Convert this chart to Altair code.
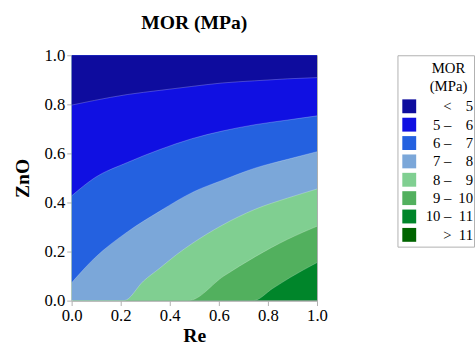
import altair as alt
import pandas as pd

FONT = "Liberation Serif, Times New Roman, Times, serif"

categories = ["< 5", "5 – 6", "6 – 7", "7 – 8", "8 – 9", "9 – 10", "10 – 11", "> 11"]
colors = ["#0e0c9e", "#1010e2", "#2461e0", "#7ba7d9", "#80cf91", "#52b05e", "#00852a", "#006400"]
legend_left = ["<", "5 –", "6 –", "7 –", "8 –", "9 –", "10 –", ">"]
legend_right = ["5", "6", "7", "8", "9", "10", "11", "11"]
legend_title = ["MOR", "(MPa)"]

# contour boundaries (Re, ZnO)
c5_x = [0, 0.093, 0.227, 0.36, 0.49, 0.613, 0.747, 0.88, 1.0]
c5_y = [0.797, 0.816, 0.84, 0.857, 0.873, 0.887, 0.896, 0.904, 0.909]
c6_x = [0, 0.093, 0.227, 0.36, 0.49, 0.613, 0.747, 0.88, 1.0]
c6_y = [0.427, 0.50, 0.563, 0.616, 0.66, 0.691, 0.717, 0.736, 0.753]
c7_x = [0, 0.093, 0.227, 0.36, 0.5, 0.613, 0.747, 0.88, 1.0]
c7_y = [0.073, 0.173, 0.28, 0.365, 0.445, 0.49, 0.54, 0.576, 0.607]
c8_x = [0, 0.213, 0.293, 0.36, 0.427, 0.49, 0.613, 0.747, 0.88, 1.0]
c8_y = [0, 0, 0.08, 0.133, 0.187, 0.232, 0.307, 0.372, 0.418, 0.455]
c9_x = [0, 0.475, 0.62, 0.75, 0.88, 1.0]
c9_y = [0, 0, 0.10, 0.18, 0.25, 0.303]
c10_x = [0, 0.74, 0.82, 0.89, 1.0]
c10_y = [0, 0, 0.05, 0.094, 0.155]

# (boundary, category of region above it), painted bottom-up
curves = [
    (c10_x, c10_y, "9 – 10"),
    (c9_x, c9_y, "8 – 9"),
    (c8_x, c8_y, "7 – 8"),
    (c7_x, c7_y, "6 – 7"),
    (c6_x, c6_y, "5 – 6"),
    (c5_x, c5_y, "< 5"),
]

color_scale = alt.Scale(domain=categories, range=colors)
ticks = [0, 0.2, 0.4, 0.6, 0.8, 1.0]
axis_common = dict(values=ticks, format=".1f", labelFont=FONT, labelFontSize=17,
                   labelColor="black", labelFlush=False, labelOverlap=False,
                   titleFont=FONT, titleFontSize=20,
                   titleFontWeight="bold", titleColor="black", domainColor="#b0b0b0",
                   tickColor="#b0b0b0", tickSize=5, grid=False)
xenc = alt.X("x:Q", title="Re", scale=alt.Scale(domain=[0, 1], nice=False),
             axis=alt.Axis(titlePadding=3, **axis_common))
yenc = alt.Y("y:Q", title="ZnO", scale=alt.Scale(domain=[0, 1], nice=False),
             axis=alt.Axis(titlePadding=12, **axis_common))

layers = []
for cx, cy, cat in curves:
    df = pd.DataFrame({"x": cx, "y": cy, "cat": cat})
    layers.append(
        alt.Chart(df).mark_area(interpolate="monotone", clip=True).encode(
            x=xenc, y=yenc, y2=alt.datum(1),
            color=alt.Color("cat:N", scale=color_scale, legend=None),
        )
    )
for cx, cy, cat in curves:
    df = pd.DataFrame({"x": cx, "y": cy})
    layers.append(
        alt.Chart(df).mark_line(interpolate="monotone", clip=True, color="white",
                                opacity=0.3, strokeWidth=0.8).encode(x=xenc, y=yenc)
    )

main = alt.layer(*layers).properties(
    width=250, height=250,
    title=alt.Title("MOR (MPa)", font=FONT, fontSize=20, fontWeight="bold", offset=14),
    view=alt.ViewBackground(fill="#00852a", stroke="#b0b0b0"),
)

leg_df = pd.DataFrame({"cat": categories, "left": legend_left, "right": legend_right})
ly = alt.Y("cat:N", scale=alt.Scale(type="point", domain=categories, range=[52, 183], padding=0),
           axis=None)
squares = alt.Chart(leg_df).mark_square(size=200, opacity=1).encode(
    x=alt.value(12), y=ly,
    color=alt.Color("cat:N", scale=color_scale, legend=None),
)
tl = alt.Chart(leg_df).mark_text(align="right", baseline="middle", font=FONT, fontSize=15).encode(
    x=alt.value(55), y=ly, text="left:N")
tr = alt.Chart(leg_df).mark_text(align="right", baseline="middle", font=FONT, fontSize=15).encode(
    x=alt.value(77), y=ly, text="right:N")
title_df = pd.DataFrame({"t": legend_title})
tt = alt.Chart(title_df).mark_text(align="center", baseline="middle", font=FONT, fontSize=15).encode(
    x=alt.value(52),
    y=alt.Y("t:N", scale=alt.Scale(type="point", domain=legend_title, range=[13, 31], padding=0),
            axis=None),
    text="t:N")
legend = alt.layer(squares, tl, tr, tt).properties(
    width=78, height=195,
    view=alt.ViewBackground(fill="white", stroke="#b0b0b0"),
).resolve_scale(y="independent")

chart = alt.hconcat(main, legend, spacing=69).properties(
    padding={"left": 12, "top": 9, "right": 0, "bottom": 0},
).configure_axis(
    labelFont=FONT, labelFontSize=17, labelColor="black",
    titleFont=FONT, titleFontSize=20, titleFontWeight="bold", titleColor="black",
    domainColor="#b0b0b0", tickColor="#b0b0b0", tickSize=5, grid=False,
).configure_concat(spacing=69)

chart.save("out.html", embed_options={"renderer": "svg", "actions": False})
